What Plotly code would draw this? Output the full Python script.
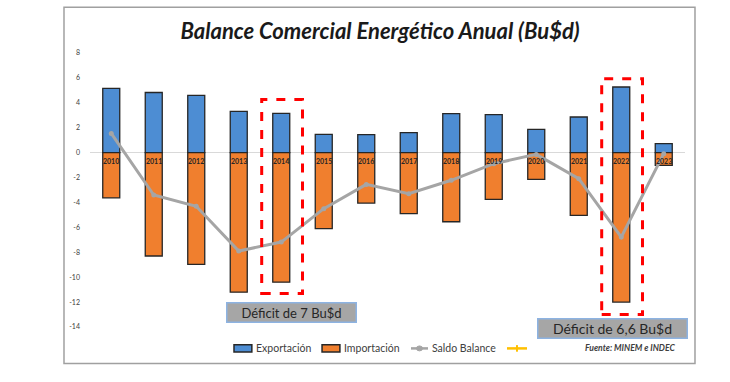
import plotly.graph_objects as go

years = ["2010", "2011", "2012", "2013", "2014", "2015", "2016",
         "2017", "2018", "2019", "2020", "2021", "2022", "2023"]
exportacion = [5.16, 4.83, 4.6, 3.32, 3.15, 1.47, 1.44, 1.6, 3.13, 3.05, 1.87, 2.86, 5.27, 0.72]
importacion = [-3.63, -8.3, -8.97, -11.2, -10.4, -6.1, -4.05, -4.9, -5.55, -3.75, -2.14, -5.04, -12.0, -1.02]
saldo = [1.54, -3.4, -4.31, -7.9, -7.18, -4.5, -2.55, -3.3, -2.22, -0.89, -0.14, -2.09, -6.78, -0.08]
y_ticks = [8, 6, 4, 2, 0, -2, -4, -6, -8, -10, -12, -14]

highlight_years = ["2014", "2022"]
highlight_boxes = {"2014": (4.26, -11.32), "2022": (5.94, -13.0)}
deficit_notes = [("Déficit de 7 Bu$d", 4.25, 0.053, 13, 126),
                 ("Déficit de 6,6 Bu$d", 11.8, -0.005, 14, 146)]

FONT = "Lato"
BLUE, ORANGE, GRAY, YELLOW = "#4d8dd3", "#f07f2e", "#a5a5a5", "#ffc000"
xpos = list(range(len(years)))

fig = go.Figure()
fig.add_trace(go.Bar(x=xpos, y=exportacion, name="Exportación", width=0.4,
                     hovertext=years,
                     marker=dict(color=BLUE, line=dict(color="#262626", width=1.3))))
fig.add_trace(go.Bar(x=xpos, y=importacion, name="Importación", width=0.4,
                     hovertext=years,
                     marker=dict(color=ORANGE, line=dict(color="#262626", width=1.3))))
fig.add_trace(go.Scatter(x=xpos, y=saldo, name="Saldo Balance", mode="lines+markers",
                         hovertext=years,
                         line=dict(color=GRAY, width=3),
                         marker=dict(color=GRAY, size=5)))

# year labels just below the zero line
for i, yr in enumerate(years):
    fig.add_annotation(x=i, y=0, xref="x", yref="y", text=f"<b>{yr}</b>",
                       showarrow=False, yanchor="top", yshift=-2,
                       font=dict(family=FONT, size=7, color="#262626"))

# red dashed highlight boxes
for yr in highlight_years:
    i = years.index(yr)
    top, bot = highlight_boxes[yr]
    fig.add_shape(type="rect", xref="x", yref="y", x0=i - 0.46, x1=i + 0.5,
                  y0=bot, y1=top, line=dict(color="#ff0000", width=3, dash="dash"),
                  fillcolor="rgba(0,0,0,0)", layer="above")

for text, xi, yv, fs, w in deficit_notes:
    fig.add_annotation(x=xi, y=yv, xref="x", yref="paper", text=text, showarrow=False,
                       bgcolor="#a6a6a6", bordercolor="#8db3e2", borderwidth=1.5,
                       width=w, height=16, borderpad=1, yanchor="middle",
                       font=dict(family=FONT, size=fs, color="#262626"))

# outer chart frame
fig.add_shape(type="rect", xref="paper", yref="paper", x0=-0.0437, x1=1.0168,
              y0=-0.133, y1=1.1668, line=dict(color="#a0a0a0", width=1.5),
              fillcolor="rgba(0,0,0,0)")

# legend row (drawn manually to match spacing)
LY = -0.0781
legend_font = dict(family=FONT, size=10.5, color="#404040")
for name, color, x0, x1 in [("Exportación", BLUE, 0.242, 0.272),
                            ("Importación", ORANGE, 0.390, 0.420)]:
    fig.add_shape(type="rect", xref="paper", yref="paper", x0=x0, x1=x1,
                  y0=LY - 0.013, y1=LY + 0.013, fillcolor=color,
                  line=dict(color="#262626", width=1.5))
    fig.add_annotation(x=x1 + 0.004, y=LY, xref="paper", yref="paper", text=name,
                       showarrow=False, xanchor="left", yanchor="middle",
                       font=legend_font)
fig.add_shape(type="line", xref="paper", yref="paper", x0=0.5395, x1=0.5681,
              y0=LY, y1=LY, line=dict(color=GRAY, width=2.5))
fig.add_shape(type="circle", xref="paper", yref="paper", x0=0.5488, x1=0.5588,
              y0=LY - 0.009, y1=LY + 0.009, fillcolor=GRAY, line=dict(color=GRAY, width=1))
fig.add_annotation(x=0.5714, y=LY, xref="paper", yref="paper", text="Saldo Balance",
                   showarrow=False, xanchor="left", yanchor="middle", font=legend_font)
fig.add_shape(type="line", xref="paper", yref="paper", x0=0.7008, x1=0.7345,
              y0=LY, y1=LY, line=dict(color=YELLOW, width=2.5))
fig.add_shape(type="line", xref="paper", yref="paper", x0=0.7176, x1=0.7176,
              y0=LY - 0.012, y1=LY + 0.012, line=dict(color=YELLOW, width=2))

fig.add_annotation(x=0.987, y=LY, xref="paper", yref="paper",
                   text="<i><b>Fuente: MINEM e INDEC</b></i>", showarrow=False,
                   xanchor="right", yanchor="middle",
                   font=dict(family=FONT, size=8.6, color="#404040"))

fig.update_layout(
    width=730, height=382,
    margin=dict(l=90, r=45, t=53, b=55),
    paper_bgcolor="white", plot_bgcolor="white",
    barmode="relative", showlegend=False,
    title=dict(text="<b><i>Balance Comercial Energético Anual (Bu$d)</i></b>",
               x=0.4874, xref="paper", xanchor="center", y=0.919, yanchor="middle",
               font=dict(family=FONT, size=22, color="#1a1a1a")),
    xaxis=dict(range=[-0.5, len(years) - 0.5], showticklabels=False, showgrid=False,
               showline=False, ticks="", zeroline=False),
    yaxis=dict(range=[-14, 8], tickvals=y_ticks, ticktext=[str(v) for v in y_ticks],
               showgrid=False, zeroline=True, zerolinecolor="#d9d9d9", zerolinewidth=1,
               showline=False, ticks="", ticklabelstandoff=9,
               tickfont=dict(family=FONT, size=7, color="#404040")),
)

fig.write_html("out.html", config={"displayModeBar": False},
               post_script="document.body.style.margin='0';")
